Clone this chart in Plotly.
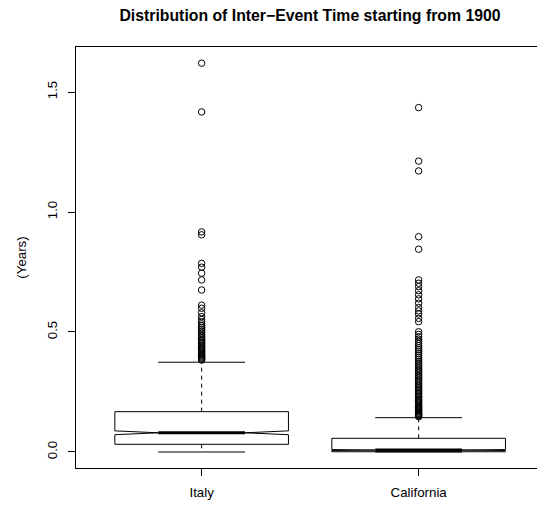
import plotly.graph_objects as go

# Group labels and summary statistics (years)
groups = ["Italy", "California"]
q1 = [0.032, 0.001]
median = [0.080, 0.008]
q3 = [0.168, 0.057]
lower_whisker = [0.0, 0.0]
upper_whisker = [0.374, 0.143]
notch_half = [0.008, 0.002]

# Outlying inter-event times beyond the upper whisker
italy_outliers = [
    0.383, 0.387, 0.391, 0.395, 0.399, 0.403, 0.407, 0.412, 0.417, 0.421,
    0.426, 0.431, 0.436, 0.441, 0.446, 0.452, 0.458, 0.463, 0.469, 0.476,
    0.482, 0.489, 0.496, 0.503, 0.510, 0.518, 0.526, 0.534, 0.543, 0.552,
    0.564, 0.580, 0.599, 0.612, 0.675, 0.717, 0.745, 0.770, 0.786, 0.905,
    0.917, 1.417, 1.620,
]
california_outliers = [
    0.147, 0.150, 0.153, 0.156, 0.159, 0.162, 0.166, 0.170, 0.174, 0.178,
    0.182, 0.186, 0.190, 0.195, 0.200, 0.205, 0.210, 0.215, 0.220, 0.226,
    0.232, 0.238, 0.244, 0.250, 0.256, 0.262, 0.268, 0.274, 0.280, 0.287,
    0.294, 0.301, 0.308, 0.315, 0.322, 0.329, 0.336, 0.343, 0.350, 0.357,
    0.364, 0.371, 0.378, 0.386, 0.394, 0.402, 0.410, 0.418, 0.426, 0.434,
    0.443, 0.452, 0.461, 0.470, 0.480, 0.490, 0.501, 0.543, 0.557, 0.575,
    0.588, 0.602, 0.620, 0.638, 0.655, 0.672, 0.689, 0.703, 0.717, 0.845,
    0.897, 1.171, 1.212, 1.435,
]
outliers = [italy_outliers, california_outliers]

y_ticks = [0.0, 0.5, 1.0, 1.5]

BOX_W = 0.8          # full box width in category units
HALF = BOX_W / 2
QUART = BOX_W / 4
FONT = "Liberation Sans, Arial, Helvetica, sans-serif"
LABEL_SIZE = 13.3

fig = go.Figure()

for i, name in enumerate(groups):
    c = i + 1
    lo_n = median[i] - notch_half[i]
    hi_n = median[i] + notch_half[i]
    # notched box outline
    bx = [c - HALF, c - HALF, c - QUART, c - HALF, c - HALF,
          c + HALF, c + HALF, c + QUART, c + HALF, c + HALF, c - HALF]
    by = [q1[i], lo_n, median[i], hi_n, q3[i],
          q3[i], hi_n, median[i], lo_n, q1[i], q1[i]]
    fig.add_trace(go.Scatter(x=bx, y=by, mode="lines",
                             line=dict(color="black", width=1),
                             hoverinfo="skip", showlegend=False))
    # median bar
    fig.add_trace(go.Scatter(x=[c - QUART, c + QUART], y=[median[i], median[i]],
                             mode="lines", line=dict(color="black", width=3),
                             hoverinfo="skip", showlegend=False))
    # dashed whiskers
    for a, b in ((q3[i], upper_whisker[i]), (q1[i], lower_whisker[i])):
        fig.add_trace(go.Scatter(x=[c, c], y=[a, b], mode="lines",
                                 line=dict(color="black", width=1, dash="4px,4px"),
                                 hoverinfo="skip", showlegend=False))
    # staples
    for v in (upper_whisker[i], lower_whisker[i]):
        fig.add_trace(go.Scatter(x=[c - QUART, c + QUART], y=[v, v], mode="lines",
                                 line=dict(color="black", width=1),
                                 hoverinfo="skip", showlegend=False))
    # outliers
    fig.add_trace(go.Scatter(x=[c] * len(outliers[i]), y=outliers[i], mode="markers",
                             marker=dict(symbol="circle-open", size=6.5,
                                         color="black", line=dict(width=1)),
                             name=name, showlegend=False))

fig.update_layout(
    width=537, height=505,
    margin=dict(l=76, r=0, t=47, b=37),
    paper_bgcolor="white", plot_bgcolor="white",
    font=dict(family=FONT, size=LABEL_SIZE, color="black"),
    title=dict(text="<b>Distribution of Inter\u2212Event Time starting from 1900</b>",
               x=310 / 537, xanchor="center", xref="container",
               y=1 - 15 / 505, yanchor="middle", yref="container",
               font=dict(family=FONT, size=15.8, color="black")),
    showlegend=False,
)
fig.update_xaxes(
    range=[0.421, 0.421 + (537 - 76) / 217],
    tickmode="array", tickvals=[1, 2], ticktext=groups,
    ticks="outside", ticklen=7, tickcolor="black", tickwidth=1,
    showline=True, linecolor="black", linewidth=1, mirror=True,
    showgrid=False, zeroline=False, ticklabelstandoff=5,
    tickfont=dict(size=LABEL_SIZE),
)
fig.update_yaxes(
    range=[-0.0667, 1.6875],
    tickmode="array", tickvals=y_ticks, ticktext=[f"{v:.1f}" for v in y_ticks],
    tickangle=-90,
    ticks="outside", ticklen=7, tickcolor="black", tickwidth=1,
    showline=True, linecolor="black", linewidth=1, mirror=False,
    showgrid=False, zeroline=False, ticklabelstandoff=6,
    tickfont=dict(size=LABEL_SIZE),
    title=dict(text="(Years)", standoff=15, font=dict(size=LABEL_SIZE)),
)

fig.write_html("out.html")
